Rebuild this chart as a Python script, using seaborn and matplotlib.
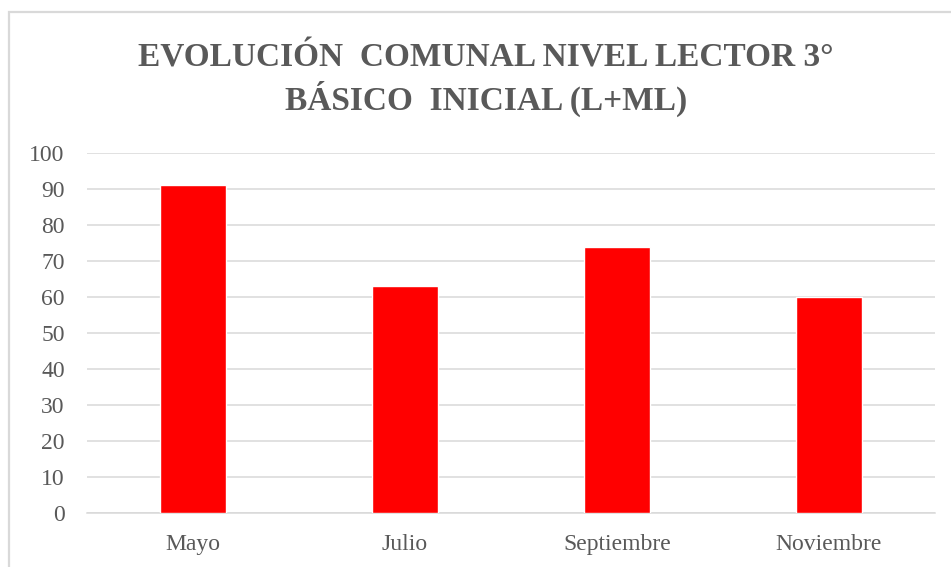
import matplotlib
matplotlib.use("Agg")
import matplotlib.pyplot as plt
import seaborn as sns
import pandas as pd
from matplotlib.patches import Rectangle

categories = ["Mayo", "Julio", "Septiembre", "Noviembre"]
values = [91, 63, 74, 60]
yticks = [0, 10, 20, 30, 40, 50, 60, 70, 80, 90, 100]
title = "EVOLUCIÓN  COMUNAL NIVEL LECTOR 3°\nBÁSICO  INICIAL (L+ML)"

sns.set_theme(style="white")
plt.rcParams['font.family'] = ['Liberation Serif', 'DejaVu Serif']

df = pd.DataFrame({"mes": categories, "valor": values})

W, H = 951, 567
fig = plt.figure(figsize=(W / 100, H / 100), dpi=100)
ax = fig.add_axes([87 / W, 1 - 513 / H, (935 - 87) / W, (513 - 153) / H])

sns.barplot(data=df, x="mes", y="valor", color="#FF0000", width=0.31,
            saturation=1, ax=ax, zorder=3)

ax.set_ylim(0, 100)
ax.set_xlim(-0.5, len(categories) - 0.5)
ax.set_yticks(yticks)
ax.set_yticklabels([str(t) for t in yticks])
ax.set_xlabel("")
ax.set_ylabel("")
ax.yaxis.grid(True, color="#d9d9d9", linewidth=1.1, zorder=0)
ax.xaxis.grid(False)
for s in ["top", "right", "left"]:
    ax.spines[s].set_visible(False)
ax.spines["bottom"].set_color("#d9d9d9")
ax.spines["bottom"].set_linewidth(1.1)
ax.tick_params(axis="both", length=0, labelsize=17, colors="#595959")
ax.tick_params(axis="y", pad=16)
ax.tick_params(axis="x", pad=15)

fig.text(486 / W, 1 - 80 / H, title, ha="center", va="center",
         fontsize=24, fontweight="bold", color="#595959", linespacing=1.25)

fig.patches.append(Rectangle((8.5 / W, -0.1), 1.2, 1 - 11.5 / H + 0.1,
                             transform=fig.transFigure, fill=False,
                             edgecolor="#d9d9d9", linewidth=1.6))

fig.savefig("out.png", dpi=100)
